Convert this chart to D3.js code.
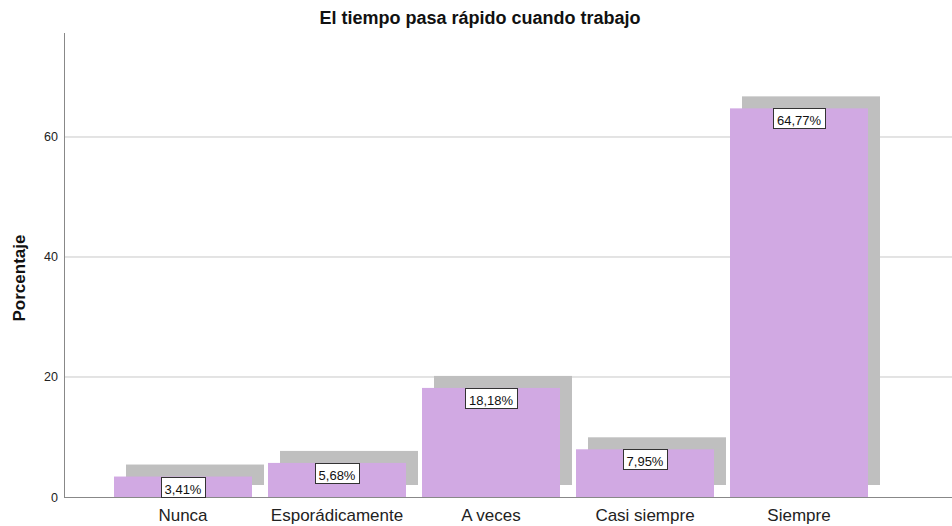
<!DOCTYPE html>
<html>
<head>
<meta charset="utf-8">
<script src="https://cdn.jsdelivr.net/npm/d3@7"></script>
<style>
  html, body { margin: 0; padding: 0; background: #fff; }
  svg { display: block; font-family: "Liberation Sans", Arial, sans-serif; }
</style>
</head>
<body>
<svg id="chart" width="952" height="526"></svg>
<script>
const categories = ["Nunca", "Esporádicamente", "A veces", "Casi siempre", "Siempre"];
const values = [3.41, 5.68, 18.18, 7.95, 64.77];
const valueLabels = ["3,41%", "5,68%", "18,18%", "7,95%", "64,77%"];
const yTicks = [0, 20, 40, 60];
const title = "El tiempo pasa rápido cuando trabajo";
const yTitle = "Porcentaje";

const svg = d3.select("#chart");
const W = 952, H = 526;
const axisX = 64, baseY = 497, topY = 33;

const y = d3.scaleLinear().domain([0, 77.33]).range([baseY, topY]);
const x = d3.scaleBand().domain(categories).range([106, 876])
  .paddingInner(16 / 154).paddingOuter(8 / 154);

// gridlines
svg.append("g").selectAll("line").data(yTicks.filter(d => d > 0)).join("line")
  .attr("x1", axisX).attr("x2", W)
  .attr("y1", d => y(d)).attr("y2", d => y(d))
  .attr("stroke", "#c8c8c8").attr("stroke-width", 1);

const data = categories.map((c, i) => ({ c, v: values[i], lab: valueLabels[i] }));
const off = 12;

// shadows
svg.append("g").selectAll("rect").data(data).join("rect")
  .attr("x", d => x(d.c) + off)
  .attr("y", d => y(d.v) - off)
  .attr("width", x.bandwidth())
  .attr("height", d => baseY - y(d.v))
  .attr("fill", "#bfbfbf");

// bars
svg.append("g").selectAll("rect").data(data).join("rect")
  .attr("x", d => x(d.c))
  .attr("y", d => y(d.v))
  .attr("width", x.bandwidth())
  .attr("height", d => baseY - y(d.v))
  .attr("fill", "#d1a9e3");

// axes lines
svg.append("line").attr("x1", axisX + 0.5).attr("x2", axisX + 0.5)
  .attr("y1", topY).attr("y2", baseY).attr("stroke", "#888").attr("stroke-width", 1);
svg.append("line").attr("x1", axisX).attr("x2", W)
  .attr("y1", baseY + 0.5).attr("y2", baseY + 0.5).attr("stroke", "#888").attr("stroke-width", 1);

// y tick labels
svg.append("g").selectAll("text").data(yTicks).join("text")
  .attr("x", 58).attr("y", d => y(d)).attr("dy", "0.36em")
  .attr("text-anchor", "end").attr("font-size", 12.5).attr("fill", "#222")
  .text(d => d);

// category labels
svg.append("g").selectAll("text").data(categories).join("text")
  .attr("x", d => x(d) + x.bandwidth() / 2).attr("y", 521)
  .attr("text-anchor", "middle").attr("font-size", 17).attr("fill", "#222")
  .text(d => d);

// value labels
const lg = svg.append("g").selectAll("g").data(data).join("g");
lg.each(function(d) {
  const g = d3.select(this);
  const cx = x(d.c) + x.bandwidth() / 2;
  const t = g.append("text").attr("x", cx).attr("y", y(d.v) + 17)
    .attr("text-anchor", "middle").attr("font-size", 13).attr("fill", "#111").text(d.lab);
  const bb = t.node().getBBox();
  g.insert("rect", "text")
    .attr("x", Math.round(cx - bb.width / 2 - 3.5) + 0.5)
    .attr("y", Math.round(y(d.v)) + 0.5)
    .attr("width", Math.round(bb.width + 7))
    .attr("height", 20)
    .attr("fill", "#fff").attr("stroke", "#333").attr("stroke-width", 1);
});

// title
svg.append("text").attr("x", 480).attr("y", 24).attr("text-anchor", "middle")
  .attr("font-size", 18).attr("font-weight", "bold").attr("fill", "#111").text(title);

// y title
svg.append("text").attr("transform", "translate(25,278) rotate(-90)")
  .attr("text-anchor", "middle").attr("font-size", 17).attr("font-weight", "bold")
  .attr("fill", "#111").text(yTitle);
</script>
</body>
</html>
